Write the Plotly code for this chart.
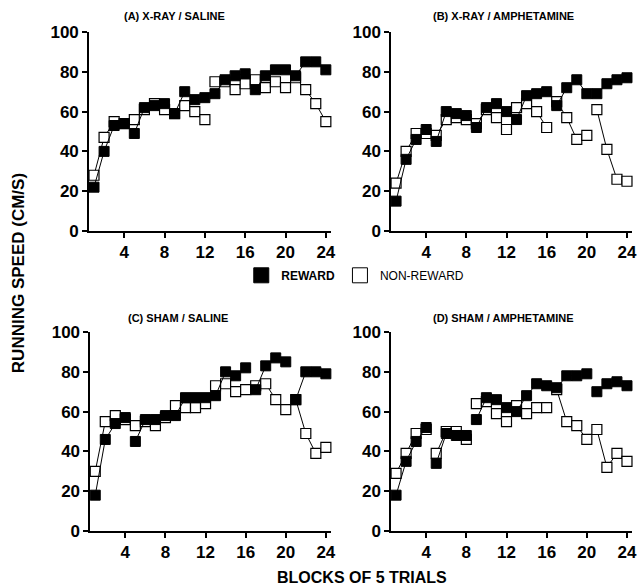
import plotly.graph_objects as go

blocks = list(range(1, 25))

# Panel A: X-RAY / SALINE
a_reward = [22, 40, 53, 54, 49, 62, 63, 64, 59, 70, 66, 67, 69, 76, 78, 79, 71, 78, 81, 81, 78, 85, 85, 81]
a_nonreward = [28, 47, 55, 54, 56, 61, 64, 61, 59, 63, 60, 56, 75, 75, 71, 74, 76, 72, 75, 72, 77, 71, 64, 55]
# Panel B: X-RAY / AMPHETAMINE
b_reward = [15, 36, 46, 51, 45, 60, 59, 58, 52, 62, 64, 60, 56, 68, 69, 70, 63, 72, 76, 69, 69, 74, 76, 77]
b_nonreward = [24, 40, 49, 49, 48, 56, 57, 56, 54, 61, 57, 51, 62, 64, 60, 52, 65, 57, 46, 48, 61, 41, 26, 25]
# Panel C: SHAM / SALINE
c_reward = [18, 46, 54, 57, 45, 56, 56, 58, 58, 67, 67, 67, 68, 80, 78, 82, 71, 83, 87, 85, 66, 80, 80, 79]
c_nonreward = [30, 55, 58, 56, 53, 55, 53, 57, 63, 62, 62, 64, 73, 74, 70, 71, 73, 74, 66, 61, 66, 49, 39, 42]
# Panel D: SHAM / AMPHETAMINE
d_reward = [18, 35, 45, 52, 34, 49, 48, 48, 56, 67, 66, 62, 60, 68, 74, 73, 72, 78, 78, 79, 70, 74, 75, 73]
d_nonreward = [29, 39, 49, 51, 39, 50, 50, 46, 64, 65, 59, 55, 63, 59, 62, 62, 71, 55, 53, 46, 51, 32, 39, 35]

panel_titles = ["(A) X-RAY / SALINE", "(B) X-RAY / AMPHETAMINE",
                "(C) SHAM / SALINE", "(D) SHAM / AMPHETAMINE"]
x_ticks = [4, 8, 12, 16, 20, 24]
y_ticks = [0, 20, 40, 60, 80, 100]
group_len = 4

FONT = "Liberation Sans, Arial, Helvetica, sans-serif"


def segmented(xs, ys):
    ox, oy = [], []
    for i, (x, y) in enumerate(zip(xs, ys)):
        if i > 0 and i % group_len == 0:
            ox.append(None)
            oy.append(None)
        ox.append(x)
        oy.append(y)
    return ox, oy


fig = go.Figure()
panels = [(a_reward, a_nonreward), (b_reward, b_nonreward),
          (c_reward, c_nonreward), (d_reward, d_nonreward)]

x_domains = [[0.139, 0.517], [0.611, 0.9875], [0.141, 0.517], [0.611, 0.9875]]
y_domains = [[0.6065, 0.9455], [0.6065, 0.9455], [0.0954, 0.4344], [0.0954, 0.4344]]

for i, (rew, non) in enumerate(panels):
    suffix = "" if i == 0 else str(i + 1)
    xr = "x" + suffix
    yr = "y" + suffix
    nx, ny = segmented(blocks, non)
    fig.add_trace(go.Scatter(
        x=nx, y=ny, mode="lines+markers", xaxis=xr, yaxis=yr,
        line=dict(color="black", width=1),
        marker=dict(symbol="square", size=10, color="white",
                    line=dict(color="black", width=1.2)),
        showlegend=False, cliponaxis=False))
    rx, ry = segmented(blocks, rew)
    fig.add_trace(go.Scatter(
        x=rx, y=ry, mode="lines+markers", xaxis=xr, yaxis=yr,
        line=dict(color="black", width=1),
        marker=dict(symbol="square", size=10, color="black",
                    line=dict(color="black", width=1)),
        showlegend=False, cliponaxis=False))

    axis_common = dict(showgrid=False, zeroline=False, showline=True,
                       linecolor="black", linewidth=1.5, ticks="outside",
                       tickcolor="black", ticklen=5, tickwidth=1.5, automargin=False,
                       tickfont=dict(family=FONT, size=17, color="black", weight="bold"))
    fig.update_layout(**{
        "xaxis" + suffix: dict(domain=x_domains[i], range=[0.5, 24.5],
                               tickvals=x_ticks, anchor=yr, **axis_common),
        "yaxis" + suffix: dict(domain=y_domains[i], range=[0, 100],
                               tickvals=y_ticks, anchor=xr, **axis_common),
    })

# legend-only traces
fig.add_trace(go.Scatter(x=[None], y=[None], mode="markers", name="<b>REWARD</b>",
                         marker=dict(symbol="square", size=15, color="black",
                                     line=dict(color="black", width=1))))
fig.add_trace(go.Scatter(x=[None], y=[None], mode="markers", name="NON-REWARD",
                         marker=dict(symbol="square", size=15, color="white",
                                     line=dict(color="black", width=1))))

title_pos = [(0.273, 0.972), (0.786, 0.972), (0.278, 0.458), (0.786, 0.458)]
annotations = []
for t, (tx, ty) in zip(panel_titles, title_pos):
    annotations.append(dict(text="<b>" + t + "</b>", x=tx, y=ty, xref="paper", yref="paper",
                            showarrow=False, xanchor="center", yanchor="middle",
                            font=dict(family=FONT, size=11, color="black")))
annotations.append(dict(text="<b>RUNNING SPEED (CM/S)</b>", x=0.030, y=0.535,
                        xref="paper", yref="paper", showarrow=False, textangle=-90,
                        xanchor="center", yanchor="middle",
                        font=dict(family=FONT, size=17, color="black")))
annotations.append(dict(text="<b>BLOCKS OF 5 TRIALS</b>", x=0.5656, y=0.017,
                        xref="paper", yref="paper", showarrow=False,
                        xanchor="center", yanchor="middle",
                        font=dict(family=FONT, size=16, color="black")))

fig.update_layout(
    width=640, height=587,
    margin=dict(l=0, r=0, t=0, b=0, autoexpand=False),
    paper_bgcolor="white", plot_bgcolor="white",
    showlegend=True,
    legend=dict(orientation="h", x=0.377, y=0.531, xanchor="left", yanchor="middle",
                font=dict(family=FONT, size=12, color="black"),
                itemwidth=30, tracegroupgap=0, bgcolor="rgba(0,0,0,0)"),
    annotations=annotations,
)

fig.write_html("out.html", config={"displayModeBar": False},
               post_script="document.body.style.margin='0';document.body.style.overflow='hidden';")
